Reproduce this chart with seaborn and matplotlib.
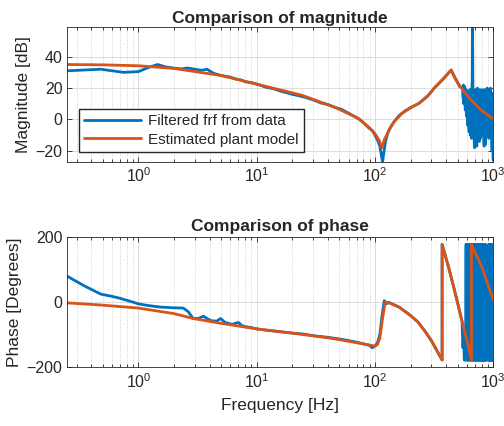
# Imports
import matplotlib
matplotlib.use('Agg')
import seaborn as sns
import matplotlib.pyplot as plt

# Cores no estilo MATLAB
cor_dados = '#0072BD'
cor_modelo = '#D95319'

# Magnitude - modelo estimado (Hz, dB)
mag_model_freq = [0.25, 0.5, 1, 2, 3, 5, 10, 24, 46, 73, 89, 100, 108, 115, 120, 131, 145, 169,
                  200, 236, 280, 323, 380, 441, 470, 500, 540, 580, 640, 700, 780, 855, 930, 1000]
mag_model = [35, 34.8, 34.2, 32.5, 30.5, 28, 22.5, 15.5, 7.7, 0.6, -5, -9, -13, -18, -13, -7, -1.5, 3.8,
             7.5, 10.3, 15, 20.6, 26, 31.5, 27, 23.5, 20, 17, 13, 10, 6.5, 4, 2, 0.6]

# Magnitude - frf filtrada dos dados (Hz, dB)
mag_data_freq = [0.25, 0.35, 0.48, 0.6, 0.75, 1.0, 1.2, 1.45, 1.7, 2.0,
                 2.3, 2.6, 3.0, 3.3, 3.55, 3.8, 4.3, 5.0, 5.5, 6.0,
                 6.5, 7.0, 7.5, 8.0, 9.0, 10, 11, 12, 14, 16,
                 18, 20, 23, 26, 30, 35, 40, 46, 52, 60,
                 67, 73, 80, 89, 95, 100, 105, 110, 113, 116,
                 119, 123, 128, 135, 145, 160, 180, 200, 236, 280,
                 323, 380, 441, 480, 520,
                 553, 557, 560, 564, 568, 572, 575, 579, 582, 586,
                 590, 593, 597, 601, 605, 609, 612, 616, 620, 624,
                 627, 631, 635, 639, 642, 646, 650, 654, 657, 661,
                 665, 668, 672, 676, 680, 684, 688, 692, 696, 700,
                 704, 708, 712, 716, 720, 724, 728, 733, 737, 741,
                 746, 750, 755, 760, 764, 769, 773, 778, 782, 787,
                 791, 796, 800, 805, 810, 815, 820, 825, 830, 835,
                 840, 845, 850, 855, 860, 865, 870, 875, 880, 885,
                 890, 895, 900, 905, 910, 915, 920, 925, 930, 935,
                 940, 945, 950, 955, 960, 965, 970, 975, 980, 985,
                 990, 995, 1000]
mag_data = [31, 31.5, 32, 31, 30, 30.5, 33, 35, 33.5, 32.7,
            32.2, 32.8, 32, 31.5, 31.5, 32, 29.5, 28, 27.5, 27,
            26, 25.5, 25, 24, 23.5, 22.5, 21.5, 20.5, 19.5, 18,
            17, 16, 15, 14, 12.5, 10.5, 9.5, 7.7, 6.5, 4,
            2, 0.3, -2, -5.5, -7, -10, -13, -17, -22, -27,
            -21, -14, -9, -5, -1.5, 2.5, 5.5, 7.5, 10.3, 15,
            20.6, 26, 31.5, 26, 21,
            20, 14, 22, 10, 12, 19, 21, 8, 6, 18,
            19, 4, 2, 17, 18, 0, -4, 16, 17, -6,
            -8, 18, 19, -8, -10, 17, 18, -11, -12, 20,
            25, 62, 40, -4, -6, 17, 18, -15, -18, 18,
            19, -14, -16, 18, 17, -16, -17, 19, 20, -12,
            -10, 17, 18, -13, -14, 18, 19, -11, -12, 15,
            16, -9, -10, 18, 19, -7, -8, 16, 17, -15,
            -17, 18, 19, -15, -16, 17, 18, -9, -10, 19,
            20, -7, -8, 18, 19, -11, -12, 17, 18, -8,
            -9, 19, 20, -5, -6, 16, 17, -18, -20, 9,
            8, -22, -26]

# Fase - modelo estimado (Hz, graus)
ph_model_freq = [0.25, 0.5, 1, 2, 2.9, 5, 10, 20, 43, 82,
                 100, 105, 110, 116, 122, 134, 160, 194, 230, 265,
                 300, 348, 370, 370, 421, 480, 545, 603, 655, 655,
                 807, 1000]
ph_model = [-2, -9, -18, -35, -50, -65, -82, -95, -111, -129,
            -135, -130, -111, -50, 0, -3, -15, -37, -60, -89,
            -118, -160, -178, 178, 106, 25, -58, -120, -178, 178,
            106, 8]

# Fase - dados (Hz, graus)
ph_data_freq = [0.25, 0.35, 0.48, 0.6, 0.7, 0.85, 1.0, 1.2, 1.54, 2.0,
                2.4, 2.65, 2.9, 3.2, 3.55, 3.8, 4.1, 4.6, 4.95, 5.4,
                6.2, 7.0, 7.5, 8.0, 9.0, 10, 12, 15, 20, 25,
                30, 40, 50, 60, 70, 80, 90, 95, 100, 105,
                110, 115, 120, 125, 130, 140, 160, 194, 230, 265,
                300, 348, 370, 370, 421, 480, 545, 555, 562, 570, 578, 585,
                590, 594, 598, 602, 606, 610, 614, 618, 622, 626,
                630, 634, 638, 642, 646, 650, 654, 658, 662, 666,
                670, 674, 678, 682, 686, 690, 694, 698, 702, 706,
                710, 714, 718, 722, 726, 730, 734, 738, 742, 746,
                750, 754, 758, 762, 766, 770, 774, 778, 782, 786,
                790, 794, 798, 802, 806, 810, 814, 818, 822, 826,
                830, 834, 838, 842, 846, 850, 854, 858, 862, 866,
                870, 878, 886, 894, 902, 910, 914, 918, 922, 926,
                930, 934, 938, 942, 946, 950, 954, 958, 962, 966,
                970, 974, 978, 982, 986, 990, 995, 1000]
ph_data = [80, 50, 25, 18, 12, 3, -5, -10, -15, -17,
           -18, -30, -50, -50, -43, -50, -57, -58, -50, -62,
           -68, -62, -72, -75, -78, -82, -86, -90, -95, -98,
           -103, -108, -113, -118, -123, -128, -133, -140, -135, -125,
           -100, -40, 5, -5, 0, -5, -15, -37, -60, -89,
           -118, -160, -178, 178, 106, 25, -58, -140, -100, -178, -120, -178,
           178, -178, 178, -178, 178, -178, 178, -178, 178, -178,
           178, -178, 178, -178, 178, -178, 178, -178, 178, -178,
           178, -178, 178, -178, 178, -178, 178, -178, 178, -178,
           178, -178, 178, -178, 178, -178, 178, -178, 178, -178,
           178, -178, 178, -178, 178, -178, 178, -178, 178, -178,
           178, -178, 178, -178, 178, -178, 178, -178, 178, -178,
           178, -178, 178, -178, 178, -178, 178, -178, 178, -178,
           -178, -70, -178, -70, -178, -80, 178, -178, 178, -178,
           178, -178, 178, -178, 178, -178, 178, -178, 178, -178,
           178, -178, 178, -178, 178, -178, 178, -178]

# Estilo
sns.set_style('ticks')
plt.rcParams['font.family'] = ['Liberation Sans', 'DejaVu Sans']
plt.rcParams['axes.edgecolor'] = '#262626'
plt.rcParams['axes.linewidth'] = 0.6

fig = plt.figure(figsize=(5.04, 4.26), dpi=100)
ax1 = fig.add_axes([0.1335, 0.620, 0.845, 0.317])
ax2 = fig.add_axes([0.1335, 0.138, 0.845, 0.305])

# Magnitude
sns.lineplot(x=mag_data_freq, y=mag_data, estimator=None, sort=False, color=cor_dados,
             lw=2, label='Filtered frf from data', ax=ax1)
sns.lineplot(x=mag_model_freq, y=mag_model, estimator=None, sort=False, color=cor_modelo,
             lw=2, label='Estimated plant model', ax=ax1)

# Fase
sns.lineplot(x=ph_data_freq, y=ph_data, estimator=None, sort=False, color=cor_dados,
             lw=2, legend=False, ax=ax2)
sns.lineplot(x=ph_model_freq, y=ph_model, estimator=None, sort=False, color=cor_modelo,
             lw=2, legend=False, ax=ax2)

for ax in (ax1, ax2):
    ax.set_xscale('log')
    ax.set_xlim(0.25, 1000)
    ax.grid(which='major', color='#dcdcdc', lw=0.7, ls='-')
    ax.grid(which='minor', axis='x', color='#c8c8c8', lw=0.6, ls=':')
    ax.set_axisbelow(True)
    ax.tick_params(which='both', direction='in', top=True, right=True,
                   labelsize=11.5, colors='#262626', width=0.6)
    ax.tick_params(which='major', length=3.5)
    ax.tick_params(which='minor', length=2)
    for s in ax.spines.values():
        s.set_visible(True)

ax1.set_ylim(-27, 59)
ax1.set_yticks([-20, 0, 20, 40])
ax1.set_ylabel('Magnitude [dB]', fontsize=12.5, color='#262626', labelpad=3)
ax1.set_title('Comparison of magnitude', fontsize=12.5, fontweight='bold', pad=2.5)
ax1.legend(loc='lower left', bbox_to_anchor=(0.027, 0.074), fontsize=11, handlelength=3.7,
           fancybox=False, framealpha=1, edgecolor='#262626', borderpad=0.35,
           labelspacing=0.3, borderaxespad=0, handletextpad=0.5)

ax2.set_ylim(-200, 200)
ax2.set_yticks([-200, 0, 200])
ax2.set_ylabel('Phase [Degrees]', fontsize=12.5, color='#262626', labelpad=3)
ax2.set_xlabel('Frequency [Hz]', fontsize=12.5, color='#262626', labelpad=5)
ax2.set_title('Comparison of phase', fontsize=12.5, fontweight='bold', pad=4.5)

fig.savefig('out.png', dpi=100)
